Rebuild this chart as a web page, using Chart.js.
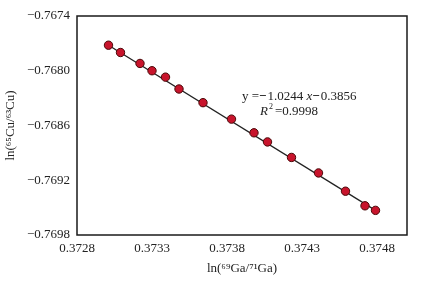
<!DOCTYPE html>
<html>
<head>
<meta charset="utf-8">
<script src="https://cdn.jsdelivr.net/npm/chart.js@4.4.0/dist/chart.umd.min.js"></script>
<style>
  html, body { margin: 0; padding: 0; background: #fff; }
  #wrap { width: 448px; height: 281px; }
</style>
</head>
<body>
<div id="wrap"><canvas id="cuGaChart"></canvas></div>
<script>
// ln(69Ga/71Ga) vs ln(65Cu/63Cu)
const gaValues = [0.37301, 0.37309, 0.37322, 0.37330, 0.37339, 0.37348, 0.37364, 0.37383,
  0.37398, 0.37407, 0.37423, 0.37441, 0.37459, 0.37472, 0.37479];
const cuValues = [-0.76772, -0.76780, -0.76792, -0.76800, -0.76807, -0.76820, -0.76835, -0.76853,
  -0.76868, -0.76878, -0.76895, -0.76912, -0.76932, -0.76948, -0.76953];

// fitted line drawn between first and last sample
const fitX = [0.37301, 0.37479];
const fitY = [-0.76772, -0.76953];

const xTicks = [0.3728, 0.3733, 0.3738, 0.3743, 0.3748];
const yTicks = [-0.7698, -0.7692, -0.7686, -0.7680, -0.7674];

const serif = "'Liberation Serif', 'Times New Roman', serif";

// full frame round the plot + regression text
const framePlugin = {
  id: 'frame',
  afterDraw(chart) {
    const { ctx, chartArea: a } = chart;
    ctx.save();
    ctx.strokeStyle = '#1a1a1a';
    ctx.lineWidth = 1.5;
    ctx.strokeRect(a.left, a.top, a.right - a.left, a.bottom - a.top);

    ctx.fillStyle = '#222';
    ctx.textBaseline = 'alphabetic';
    let x = 242, y = 100;
    const parts = [
      ['y =', 'normal'], ['\u2212', 'bold'], ['1.0244 ', 'normal'], ['x', 'italic'], ['\u2212', 'bold'], ['0.3856', 'normal']
    ];
    parts.forEach(([t, style]) => {
      ctx.font = (style === 'italic' ? 'italic ' : style === 'bold' ? 'bold ' : '') + '13px ' + serif;
      ctx.fillText(t, x, y);
      x += ctx.measureText(t).width + (style === 'bold' ? 1 : 0);
    });

    x = 260; y = 115;
    ctx.font = 'italic 13px ' + serif;
    ctx.fillText('R', x, y);
    x += ctx.measureText('R').width;
    ctx.font = '8px ' + serif;
    ctx.fillText('2', x + 1, y - 6);
    x += 7;
    ctx.font = '13px ' + serif;
    ctx.fillText('=0.9998', x, y);
    ctx.restore();
  }
};

const fmt = v => (v < 0 ? '\u2212' : '') + Math.abs(v).toFixed(4);

const ctx = document.getElementById('cuGaChart').getContext('2d');
new Chart(ctx, {
  type: 'scatter',
  data: {
    datasets: [
      {
        label: 'samples',
        data: gaValues.map((v, i) => ({ x: v, y: cuValues[i] })),
        backgroundColor: '#c8142c',
        borderColor: '#4a0808',
        borderWidth: 1,
        pointRadius: 4.2,
        order: 0
      },
      {
        label: 'fit',
        type: 'line',
        data: fitX.map((v, i) => ({ x: v, y: fitY[i] })),
        borderColor: '#222',
        borderWidth: 1.3,
        pointRadius: 0,
        fill: false,
        order: 1
      }
    ]
  },
  options: {
    responsive: true,
    maintainAspectRatio: false,
    animation: false,
    layout: { padding: { top: 16, right: 41, left: 0, bottom: 0 } },
    plugins: {
      legend: { display: false },
      tooltip: { enabled: false }
    },
    scales: {
      x: {
        type: 'linear',
        min: 0.3728,
        max: 0.3750,
        afterBuildTicks: axis => { axis.ticks = xTicks.map(v => ({ value: v })); },
        afterFit: scale => { scale.height = 46; },
        grid: { display: false, drawTicks: false },
        border: { display: false },
        ticks: {
          padding: 6,
          color: '#222',
          font: { family: serif, size: 13 },
          maxRotation: 0,
          callback: fmt
        },
        title: {
          display: true,
          text: 'ln(\u2076\u2079Ga/\u2077\u00b9Ga)',
          color: '#222',
          font: { family: serif, size: 13 },
          padding: { top: 0, bottom: 5 }
        }
      },
      y: {
        min: -0.7698,
        max: -0.7674,
        afterBuildTicks: axis => { axis.ticks = yTicks.map(v => ({ value: v })); },
        afterFit: scale => { scale.width = 77; },
        grid: { display: false, drawTicks: false },
        border: { display: false },
        ticks: {
          padding: 7,
          color: '#222',
          font: { family: serif, size: 13 },
          callback: fmt
        },
        title: {
          display: true,
          text: 'ln(\u2076\u2075Cu/\u2076\u00b3Cu)',
          color: '#222',
          font: { family: serif, size: 13 },
          padding: { top: 3, bottom: 0 }
        }
      }
    }
  },
  plugins: [framePlugin]
});
</script>
</body>
</html>
